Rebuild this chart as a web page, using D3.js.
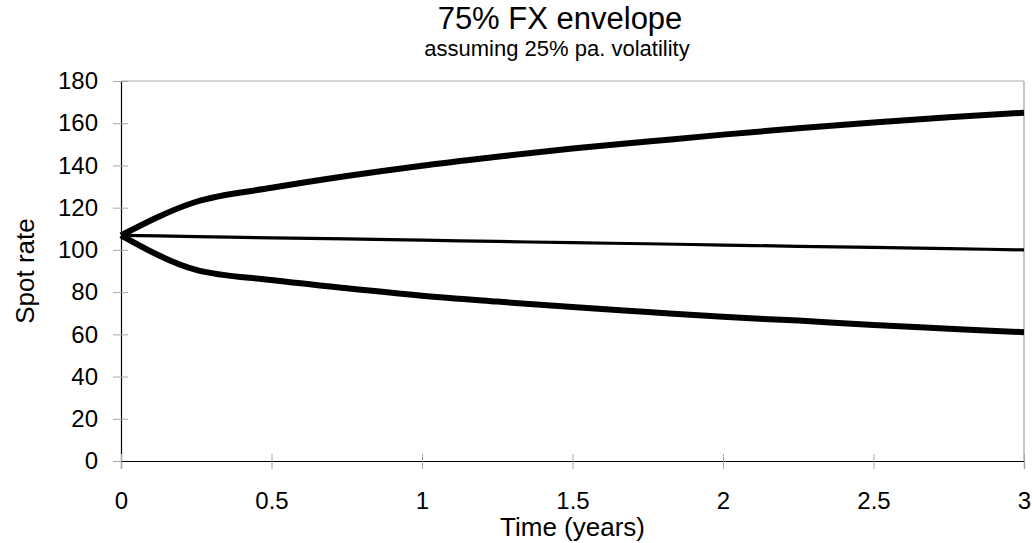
<!DOCTYPE html>
<html>
<head>
<meta charset="utf-8">
<script src="https://cdn.jsdelivr.net/npm/d3@7"></script>
<style>
  html, body { margin: 0; padding: 0; background: #fff; }
  svg { display: block; font-family: "Liberation Sans", Arial, sans-serif; }
</style>
</head>
<body>
<svg id="chart" width="1032" height="543"></svg>
<script>
// Time grid (years) and the three spot-rate paths
const times  = [0, 0.25, 0.5, 0.75, 1, 1.25, 1.5, 1.75, 2, 2.25, 2.5, 2.75, 3];
const upper  = [106.9, 122.8, 129.4, 135.0, 139.9, 144.1, 148.0, 151.3, 154.6, 157.6, 160.3, 162.8, 165.0];
const centre = [106.9, 106.3, 105.7, 105.2, 104.6, 104.0, 103.4, 102.9, 102.3, 101.7, 101.2, 100.6, 100.0];
const lower  = [106.9, 90.5, 85.7, 81.8, 78.3, 75.5, 72.9, 70.6, 68.3, 66.5, 64.4, 62.7, 61.0];

const xTicks = [0, 0.5, 1, 1.5, 2, 2.5, 3];
const yTicks = [0, 20, 40, 60, 80, 100, 120, 140, 160, 180];

const margin = { left: 121, right: 8, top: 81, bottom: 82 };
const W = 1032, H = 543;

const svg = d3.select("#chart");

const x = d3.scaleLinear().domain([0, 3]).range([margin.left, W - margin.right]);
const y = d3.scaleLinear().domain([0, 180]).range([H - margin.bottom, margin.top]);

// Plot frame: grey top and right edges
svg.append("line")
  .attr("x1", x(0)).attr("x2", x(3)).attr("y1", y(180)).attr("y2", y(180))
  .attr("stroke", "#c8c8c8").attr("stroke-width", 1.5);
svg.append("line")
  .attr("x1", x(3)).attr("x2", x(3)).attr("y1", y(180)).attr("y2", y(0))
  .attr("stroke", "#b4b4b4").attr("stroke-width", 1.5);

// Y axis
const yAxis = svg.append("g")
  .attr("transform", `translate(${x(0)},0)`)
  .call(d3.axisLeft(y).tickValues(yTicks).tickSize(8).tickPadding(15).tickFormat(d3.format("d")));
yAxis.select(".domain").attr("stroke", "#000").attr("stroke-width", 1.2);
yAxis.selectAll(".tick line").attr("stroke", "#a8a8a8").attr("x1", 7).attr("x2", -8);
yAxis.selectAll(".tick text")
  .attr("font-size", 24).attr("fill", "#000")
  .attr("font-family", "Liberation Sans, Arial, sans-serif");

// X axis
const xAxis = svg.append("g")
  .attr("transform", `translate(0,${y(0)})`)
  .call(d3.axisBottom(x).tickValues(xTicks).tickSize(8).tickPadding(23).tickFormat(d => String(d)));
xAxis.select(".domain").attr("stroke", "#000").attr("stroke-width", 1.2);
xAxis.selectAll(".tick line").attr("stroke", "#a8a8a8").attr("y1", -7).attr("y2", 8);
xAxis.selectAll(".tick text")
  .attr("font-size", 24).attr("fill", "#000")
  .attr("font-family", "Liberation Sans, Arial, sans-serif");

// Series lines
const line = d3.line()
  .x((d, i) => x(times[i]))
  .y(d => y(d))
  .curve(d3.curveMonotoneX);

const series = [
  { values: upper,  width: 6 },
  { values: lower,  width: 6 },
  { values: centre, width: 3.2 }
];
svg.append("g").selectAll("path")
  .data(series)
  .join("path")
  .attr("d", d => line(d.values))
  .attr("fill", "none")
  .attr("stroke", "#000")
  .attr("stroke-width", d => d.width)
  .attr("stroke-linejoin", "round")
  .attr("stroke-linecap", "butt");

// Titles
svg.append("text")
  .attr("x", 560).attr("y", 28.5)
  .attr("text-anchor", "middle")
  .attr("font-size", 31)
  .text("75% FX envelope");
svg.append("text")
  .attr("x", 557).attr("y", 55.5)
  .attr("text-anchor", "middle")
  .attr("font-size", 22)
  .text("assuming 25% pa. volatility");

// Axis titles
svg.append("text")
  .attr("x", (x(0) + x(3)) / 2).attr("y", 536)
  .attr("text-anchor", "middle")
  .attr("font-size", 26)
  .text("Time (years)");
svg.append("text")
  .attr("transform", `translate(34,${(y(0) + y(180)) / 2}) rotate(-90)`)
  .attr("text-anchor", "middle")
  .attr("font-size", 26)
  .text("Spot rate");
</script>
</body>
</html>
